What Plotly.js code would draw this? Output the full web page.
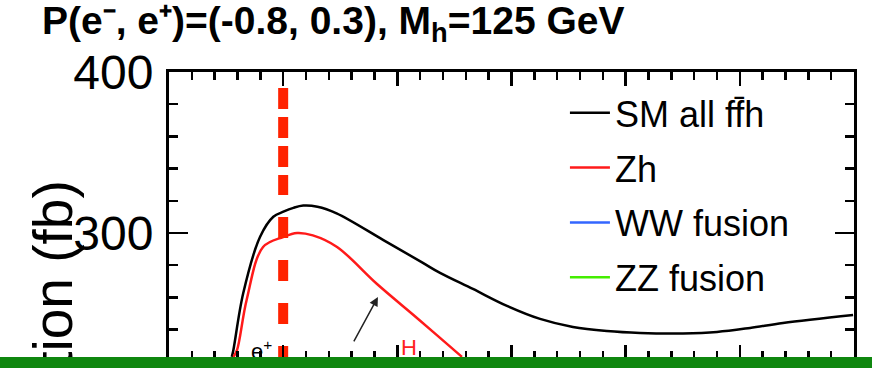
<!DOCTYPE html>
<html>
<head>
<meta charset="utf-8">
<script src="https://cdn.plot.ly/plotly-3.0.1.min.js"></script>
<style>
  html, body { margin: 0; padding: 0; background: #fff; overflow: hidden; }
  #chart { width: 872px; height: 368px; position: relative; }
  #band { position: absolute; left: 0; top: 357px; width: 872px; height: 11px; background: #0f870f; z-index: 10; }
</style>
</head>
<body>
<div id="chart"></div>
<div id="band"></div>
<script>
// ---- data ----
const seriesNames = ["SM all ff\u0304h", "Zh", "WW fusion", "ZZ fusion"];
const seriesColors = ["#000000", "#ff1a1a", "#3366ff", "#44ee00"];

const smSqrtS = [227.5, 228.2, 232.5, 239.9, 245.7, 250.1, 254.5, 258.8, 265.0, 273.4, 293.9, 311.2, 318.7, 333.1, 348.0, 362.5, 376.9, 391.8, 406.3, 425.1, 440.0, 454.5, 468.9, 499.6];
const smXsec   = [223.0, 227.3, 262.5, 297.7, 310.1, 313.2, 315.6, 317.0, 316.3, 312.2, 295.6, 281.4, 275.2, 265.2, 254.7, 246.6, 241.6, 239.1, 237.9, 237.6, 238.5, 241.0, 244.1, 249.1];

const zhSqrtS = [228.2, 229.8, 234.0, 241.2, 250.0, 256.1, 263.0, 273.6, 291.1, 308.6, 318.7, 328.3];
const zhXsec  = [223.0, 227.3, 258.4, 291.3, 297.5, 300.0, 298.5, 291.3, 268.3, 247.2, 234.8, 223.0];

// These two processes lie far below the visible window (rough estimates only)
const wwSqrtS = [250, 300, 350, 400, 450, 500];
const wwXsec  = [33, 60, 85, 108, 128, 145];
const zzSqrtS = [250, 300, 350, 400, 450, 500];
const zzXsec  = [3, 5, 7, 9, 11, 13];

const markerSqrtS = 250;          // vertical dashed marker
const markerUpper = [390.0, 323.6];
const markerLower = [309.9, 221.7];

const arrowTip  = [291.5, 260.2];
const arrowTail = [280.6, 231.7];
const labelE = [240.7, 227.3];
const labelH = [304.9, 228.6];

const xTickVals = [200, 250, 300, 350, 400, 450, 500];
const yTickVals = [0, 100, 200, 300, 400];
const yTickText = ["0", "100", "200", "300", "400"];
const xRange = [200, 500];
const yRange = [221.7, 400];

const titleText = "<b>P(e\u207B, e\u207A)=(-0.8, 0.3), M<sub>h</sub>=125 GeV</b>";
const yTitleText = "Cross section (fb)";

// ---- traces ----
const FONT = "Liberation Sans, Arial, Helvetica, sans-serif";
const traces = [
  {x: smSqrtS, y: smXsec, name: seriesNames[0], legendgroup: "a", mode: "lines",
   line: {color: seriesColors[0], width: 2.5, shape: "spline", smoothing: 1}},
  {x: zhSqrtS, y: zhXsec, name: seriesNames[1], legendgroup: "b", mode: "lines",
   line: {color: seriesColors[1], width: 2.5, shape: "spline", smoothing: 1}},
  {x: wwSqrtS, y: wwXsec, name: seriesNames[2], legendgroup: "c", mode: "lines",
   line: {color: seriesColors[2], width: 2.5}},
  {x: zzSqrtS, y: zzXsec, name: seriesNames[3], legendgroup: "d", mode: "lines",
   line: {color: seriesColors[3], width: 2.5}},
  {x: [markerSqrtS, markerSqrtS], y: markerUpper, mode: "lines", showlegend: false, hoverinfo: "skip",
   line: {color: "#ff2200", width: 10, dash: "21px,8px"}},
  {x: [markerSqrtS, markerSqrtS], y: markerLower, mode: "lines", showlegend: false, hoverinfo: "skip",
   line: {color: "#ff2200", width: 10, dash: "21px,22px"}}
];

const axisCommon = {
  showline: true, linewidth: 3, linecolor: "#000", mirror: "allticks",
  ticks: "inside", tickwidth: 2.5, tickcolor: "#000",
  showgrid: false, zeroline: false
};

const layout = {
  width: 872, height: 368,
  margin: {l: 169, r: 18, t: 72, b: 9, pad: 0},
  paper_bgcolor: "#fff", plot_bgcolor: "#fff",
  font: {family: FONT, color: "#000"},
  showlegend: true,
  legend: {x: 0.578, y: 0.962, xanchor: "left", yanchor: "top",
           font: {family: FONT, size: 36, color: "#000"}, itemwidth: 40,
           bgcolor: "rgba(0,0,0,0)", traceorder: "grouped", tracegroupgap: 5},
  xaxis: Object.assign({}, axisCommon, {
    range: xRange, tickmode: "array", tickvals: xTickVals, ticklen: 14,
    showticklabels: false,
    minor: {dtick: 10, tick0: 200, ticklen: 8, tickwidth: 2.5, tickcolor: "#000", ticks: "inside", showgrid: false}
  }),
  yaxis: Object.assign({}, axisCommon, {
    range: yRange, tickmode: "array", tickvals: yTickVals, ticktext: yTickText, ticklen: 19,
    tickfont: {family: FONT, size: 48, color: "#000"}, ticklabelstandoff: 3,
    minor: {dtick: 20, tick0: 0, ticklen: 9, tickwidth: 2.5, tickcolor: "#000", ticks: "inside", showgrid: false}
  }),
  annotations: [
    {text: titleText, xref: "paper", yref: "paper", x: -0.188, y: 1.17, xanchor: "left", yanchor: "middle",
     showarrow: false, font: {family: FONT, size: 39, color: "#000"}},
    {text: yTitleText, xref: "paper", yref: "paper", x: -0.169, y: -0.129, xanchor: "center", yanchor: "middle",
     textangle: -90, showarrow: false, font: {family: FONT, size: 55, color: "#000"}},
    {text: "", x: arrowTip[0], y: arrowTip[1], ax: arrowTail[0], ay: arrowTail[1], axref: "x", ayref: "y",
     xref: "x", yref: "y", showarrow: true, arrowhead: 2, arrowsize: 1.2, arrowwidth: 1.5, arrowcolor: "#222"},
    {text: "e<sup>+</sup>", x: labelE[0], y: labelE[1], xref: "x", yref: "y", showarrow: false,
     xanchor: "center", yanchor: "middle", font: {family: FONT, size: 22, color: "#000"}},
    {text: "H", x: labelH[0], y: labelH[1], xref: "x", yref: "y", showarrow: false,
     xanchor: "center", yanchor: "middle", font: {family: FONT, size: 22, color: "#ff2020"}}
  ]
};

Plotly.newPlot("chart", traces, layout, {displayModeBar: false, staticPlot: true});
</script>
</body>
</html>
